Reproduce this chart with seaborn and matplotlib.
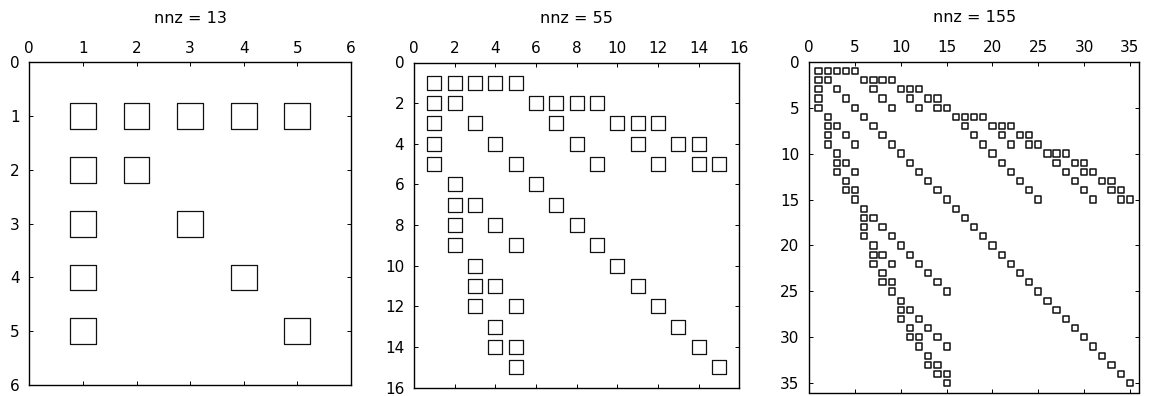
import matplotlib
matplotlib.use("Agg")
import matplotlib.pyplot as plt
import seaborn as sns
import pandas as pd

# Sparsity pattern of the 35x35 matrix: column indices of the nonzeros in each row (1-based)
row_cols = [
    [1, 2, 3, 4, 5],
    [1, 2, 6, 7, 8, 9],
    [1, 3, 7, 10, 11, 12],
    [1, 4, 8, 11, 13, 14],
    [1, 5, 9, 12, 14, 15],
    [2, 6, 16, 17, 18, 19],
    [2, 3, 7, 17, 20, 21, 22],
    [2, 4, 8, 18, 21, 23, 24],
    [2, 5, 9, 19, 22, 24, 25],
    [3, 10, 20, 26, 27, 28],
    [3, 4, 11, 21, 27, 29, 30],
    [3, 5, 12, 22, 28, 30, 31],
    [4, 13, 23, 29, 32, 33],
    [4, 5, 14, 24, 30, 33, 34],
    [5, 15, 25, 31, 34, 35],
    [6, 16],
    [6, 7, 17],
    [6, 8, 18],
    [6, 9, 19],
    [7, 10, 20],
    [7, 8, 11, 21],
    [7, 9, 12, 22],
    [8, 13, 23],
    [8, 9, 14, 24],
    [9, 15, 25],
    [10, 26],
    [10, 11, 27],
    [10, 12, 28],
    [11, 13, 29],
    [11, 12, 14, 30],
    [12, 15, 31],
    [13, 32],
    [13, 14, 33],
    [14, 15, 34],
    [15, 35],
]

# Matrix sizes of the three panels (leading blocks of the pattern above)
sizes = [5, 15, 35]
xticks_list = [list(range(0, 7, 1)), list(range(0, 17, 2)), list(range(0, 36, 5))]
yticks_list = [list(range(0, 7, 1)), list(range(0, 17, 2)), list(range(0, 36, 5))]
marker_sizes = [345, 100, 20]
marker_lw = [0.9, 0.9, 1.1]

sns.set_theme(style="white")
plt.rcParams["font.family"] = ["DejaVu Sans"]

fig = plt.figure(figsize=(11.49, 3.96), dpi=100)
W, H = 1149, 396
boxes_px = [
    (29.3, 62.3, 351.0, 385.0),
    (414.0, 62.5, 739.3, 387.5),
    (809.3, 61.7, 1139.0, 392.5),
]

for n, xt, yt, ms, mlw, (l, t, r, b) in zip(sizes, xticks_list, yticks_list,
                                            marker_sizes, marker_lw, boxes_px):
    rows, cols = [], []
    for i, cl in enumerate(row_cols[:n], start=1):
        for c in cl:
            if c <= n:
                rows.append(i)
                cols.append(c)
    df = pd.DataFrame({"row": rows, "col": cols})
    ax = fig.add_axes([l / W, (H - b) / H, (r - l) / W, (b - t) / H])
    sns.scatterplot(data=df, x="col", y="row", marker="s", s=ms,
                    facecolor="none", edgecolor="black", linewidth=mlw, ax=ax,
                    legend=False)
    ax.collections[0].set_facecolor("none")
    ax.collections[0].set_edgecolor("#111111")
    ax.set_xlim(0, n + 1)
    ax.set_ylim(n + 1, 0)
    ax.set_xticks(xt)
    ax.set_yticks(yt)
    ax.set_xlabel("")
    ax.set_ylabel("")
    ax.xaxis.set_ticks_position("both")
    ax.yaxis.set_ticks_position("both")
    ax.tick_params(axis="x", which="both", direction="in", length=3, width=0.7,
                   color="black", labeltop=True, labelbottom=False, pad=4.5,
                   labelsize=11, labelcolor="black")
    ax.tick_params(axis="y", which="both", direction="in", length=3, width=0.7,
                   color="black", labelleft=True, labelright=False, pad=7,
                   labelsize=11, labelcolor="black")
    for sp in ax.spines.values():
        sp.set_visible(True)
        sp.set_color("black")
        sp.set_linewidth(1.0)
    ax.set_title(f"nnz = {len(df)}", fontsize=11.5, pad=13, color="black")

fig.savefig("out.png", dpi=100)
